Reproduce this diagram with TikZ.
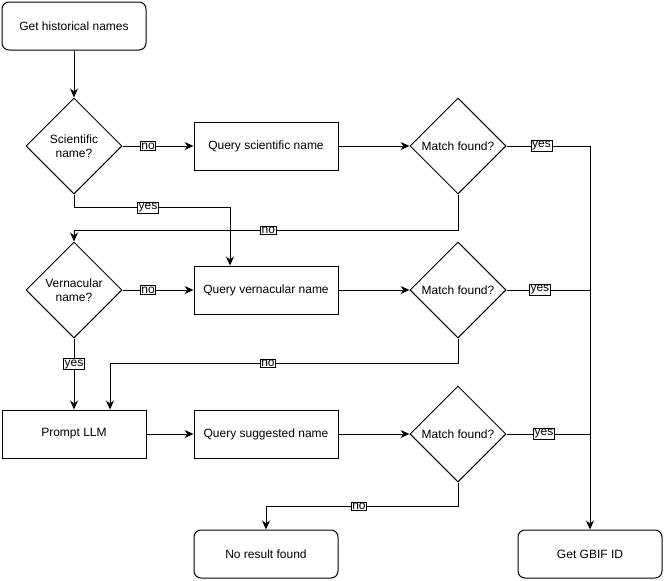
\documentclass[tikz,border=0pt]{standalone}
\usepackage{fontspec}
\setmainfont{Liberation Sans}
\usetikzlibrary{shapes.geometric,arrows.meta}

\begin{document}
\begin{tikzpicture}[x=1pt,y=-1pt,line width=1pt,
  etape/.style={draw,minimum width=144pt,minimum height=48pt,inner sep=2pt,font=\fontsize{12}{14}\selectfont},
  terminal/.style={etape,rounded corners=7pt},
  question/.style={draw,diamond,minimum width=96pt,minimum height=96pt,inner sep=0pt,align=center,font=\fontsize{12}{14}\selectfont},
  fleche/.style={-{Stealth[length=9pt,width=8pt,inset=3pt]}},
  etiq/.style={draw,fill=white,inner sep=1pt,line width=0.6pt,font=\fontsize{12}{13}\selectfont}]

\useasboundingbox (0,0) rectangle (665,581);

% Colonne de gauche
\node[terminal] (start) at (74,26) {Get historical names};
\node[question] (sci) at (74,146) {Scientific\\name?};
\node[question] (vern) at (74,290) {Vernacular\\name?};
\node[etape] (llm) at (74,434) {Prompt LLM};

% Requetes
\node[etape] (qsci) at (266,146) {Query scientific name};
\node[etape] (qvern) at (266,290) {Query vernacular name};
\node[etape] (qsugg) at (266,434) {Query suggested name};

% Tests
\node[question] (msci) at (458,146) {Match found?};
\node[question] (mvern) at (458,290) {Match found?};
\node[question] (msugg) at (458,434) {Match found?};

% Fins
\node[terminal] (none) at (266,554) {No result found};
\node[terminal] (gbif) at (590,554) {Get GBIF ID};

% Fleches
\draw[fleche] (start) -- (sci);
\draw[fleche] (sci) -- node[etiq,pos=0.36]{no} (qsci);
\draw[fleche] (qsci) -- (msci);
\draw[fleche] (sci.south) -- ++(0,13) -| node[etiq,pos=0.237]{yes} ([xshift=-36pt]qvern.north);
\draw[fleche] (msci.south) -- ++(0,36) -| node[etiq,pos=0.247]{no} (vern.north);

\draw[fleche] (vern) -- node[etiq,pos=0.36]{no} (qvern);
\draw[fleche] (qvern) -- (mvern);
\draw[fleche] (vern) -- node[etiq,pos=0.36]{yes} (llm);
\draw[fleche] (mvern.south) -- ++(0,25) -| node[etiq,pos=0.273]{no} ([xshift=36pt]llm.north);

\draw[fleche] (llm) -- (qsugg);
\draw[fleche] (qsugg) -- (msugg);
\draw[fleche] (msugg.south) -- ++(0,24) -| node[etiq,pos=0.258]{no} (none.north);

% Vers GBIF
\draw[fleche] (msci.east) -| node[etiq,pos=0.21]{yes} (gbif.north);
\draw (mvern.east) -- node[etiq,pos=0.4]{yes} (mvern.east -| gbif.north);
\draw (msugg.east) -- node[etiq,pos=0.45]{yes} (msugg.east -| gbif.north);
\end{tikzpicture}
\end{document}
